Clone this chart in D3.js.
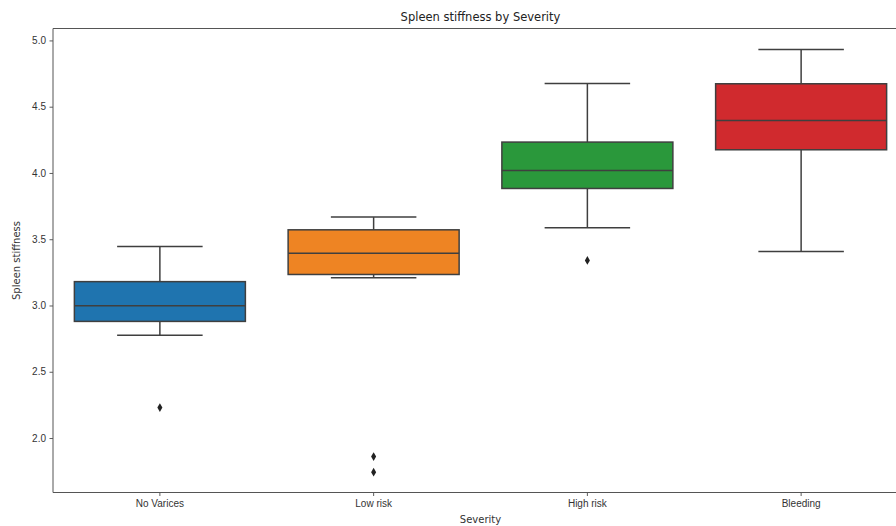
<!DOCTYPE html>
<html>
<head>
<meta charset="utf-8">
<script src="https://cdn.jsdelivr.net/npm/d3@7"></script>
<style>
  html, body { margin: 0; padding: 0; background: #fff; }
  svg { display: block; font-family: "DejaVu Sans", sans-serif; }
</style>
</head>
<body>
<svg id="chart" width="896" height="526"></svg>
<script>
// ---- data ----
const categories = ["No Varices", "Low risk", "High risk", "Bleeding"];
const whiskerLow  = [2.776, 3.209, 3.586, 3.408];
const q1          = [2.880, 3.234, 3.883, 4.175];
const median      = [2.998, 3.395, 4.019, 4.396];
const q3          = [3.180, 3.571, 4.233, 4.673];
const whiskerHigh = [3.445, 3.667, 4.675, 4.932];
const outliers    = [[2.230], [1.860, 1.742], [3.340], []];
const yTicks = [2.0, 2.5, 3.0, 3.5, 4.0, 4.5, 5.0];
const colors = ["#1f74af", "#ee8423", "#2a983b", "#d02a2e"];

const title = "Spleen stiffness by Severity";
const xLabel = "Severity";
const yLabel = "Spleen stiffness";

// ---- layout ----
const svg = d3.select("#chart");
const margin = { left: 53, right: -12, top: 28.5, bottom: 33.5 };
const W = 896, H = 526;
const x0 = margin.left, x1 = W - margin.right;
const y0 = margin.top, y1 = H - margin.bottom;

const x = d3.scaleBand().domain(categories).range([x0, x1]).paddingInner(0).paddingOuter(0);
const y = d3.scaleLinear().domain([1.589, 5.09]).range([y1, y0]);

const boxW = x.bandwidth() * 0.8;
const capW = boxW * 0.5;
const lineCol = "#3f3f3f";

const data = categories.map((c, i) => ({
  c, lo: whiskerLow[i], q1: q1[i], med: median[i], q3: q3[i], hi: whiskerHigh[i],
  out: outliers[i], color: colors[i]
}));

// axes
const yAxis = d3.axisLeft(y).tickValues(yTicks).tickFormat(d3.format(".1f")).tickSize(3.5).tickPadding(3.5);
const xAxis = d3.axisBottom(x).tickSize(3.5).tickPadding(3.5);

const gy = svg.append("g").attr("transform", `translate(${x0},0)`).call(yAxis);
const gx = svg.append("g").attr("transform", `translate(0,${y1})`).call(xAxis);
[gx, gy].forEach(g => {
  g.select(".domain").remove();
  g.selectAll("line").attr("stroke", "#333").attr("stroke-width", 0.8);
  g.selectAll("text").attr("fill", "#333").style("font-size", "10px");
});

// boxes
const g = svg.append("g");
const gs = g.selectAll("g.box").data(data).join("g").attr("class", "box");
const cx = d => x(d.c) + x.bandwidth() / 2;

gs.append("line").attr("x1", cx).attr("x2", cx)
  .attr("y1", d => y(d.q3)).attr("y2", d => y(d.hi))
  .attr("stroke", lineCol).attr("stroke-width", 1.5);
gs.append("line").attr("x1", cx).attr("x2", cx)
  .attr("y1", d => y(d.q1)).attr("y2", d => y(d.lo))
  .attr("stroke", lineCol).attr("stroke-width", 1.5);
gs.append("line").attr("x1", d => cx(d) - capW / 2).attr("x2", d => cx(d) + capW / 2)
  .attr("y1", d => y(d.hi)).attr("y2", d => y(d.hi))
  .attr("stroke", lineCol).attr("stroke-width", 1.5);
gs.append("line").attr("x1", d => cx(d) - capW / 2).attr("x2", d => cx(d) + capW / 2)
  .attr("y1", d => y(d.lo)).attr("y2", d => y(d.lo))
  .attr("stroke", lineCol).attr("stroke-width", 1.5);
gs.append("rect")
  .attr("x", d => cx(d) - boxW / 2).attr("width", boxW)
  .attr("y", d => y(d.q3)).attr("height", d => y(d.q1) - y(d.q3))
  .attr("fill", d => d.color).attr("stroke", lineCol).attr("stroke-width", 1.5);
gs.append("line").attr("x1", d => cx(d) - boxW / 2).attr("x2", d => cx(d) + boxW / 2)
  .attr("y1", d => y(d.med)).attr("y2", d => y(d.med))
  .attr("stroke", lineCol).attr("stroke-width", 1.5);

// outliers (diamonds)
const diamond = d3.symbol().type(d3.symbolDiamond).size(22);
gs.each(function(d) {
  d3.select(this).selectAll("path.out").data(d.out).join("path").attr("class", "out")
    .attr("d", diamond)
    .attr("transform", v => `translate(${cx(d)},${y(v)})`)
    .attr("fill", "#222");
});

// spines
svg.append("line").attr("x1", x0).attr("x2", x0).attr("y1", y0).attr("y2", y1)
  .attr("stroke", "#555").attr("stroke-width", 1);
svg.append("line").attr("x1", x0).attr("x2", W).attr("y1", y0).attr("y2", y0)
  .attr("stroke", "#555").attr("stroke-width", 1);
svg.append("line").attr("x1", x0).attr("x2", W).attr("y1", y1).attr("y2", y1)
  .attr("stroke", "#555").attr("stroke-width", 1);

// labels
svg.append("text").attr("x", (x0 + x1) / 2).attr("y", 21).attr("text-anchor", "middle")
  .attr("fill", "#222").style("font-size", "11.5px").text(title);
svg.append("text").attr("x", (x0 + x1) / 2).attr("y", 523).attr("text-anchor", "middle")
  .attr("fill", "#333").style("font-size", "10px").text(xLabel);
svg.append("text").attr("transform", `translate(20,${(y0 + y1) / 2}) rotate(-90)`)
  .attr("text-anchor", "middle").attr("fill", "#333").style("font-size", "10px").text(yLabel);
</script>
</body>
</html>
